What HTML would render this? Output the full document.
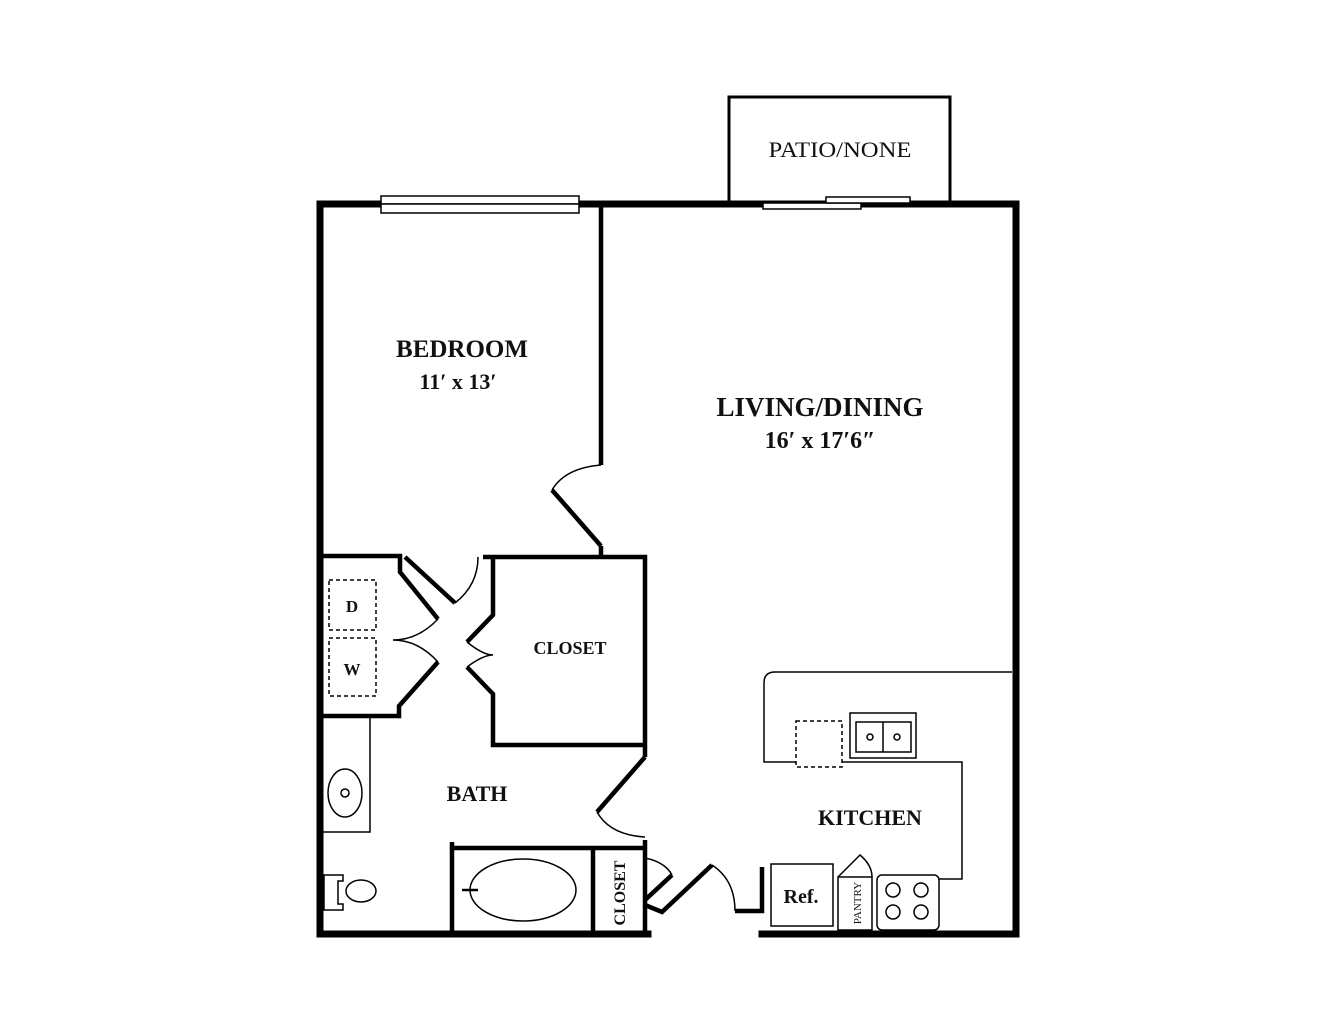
<!DOCTYPE html>
<html><head><style>body{margin:0;background:#fff}svg{display:block}text{font-family:"Liberation Serif",serif;font-weight:bold;fill:#111;text-anchor:middle}</style></head>
<body>
<svg width="1336" height="1032" viewBox="0 0 1336 1032" xmlns="http://www.w3.org/2000/svg" fill="none" stroke="#000">
<rect x="729" y="97" width="221" height="105" stroke-width="3"/>
<g stroke-width="7" stroke-linecap="square">
<line x1="320" y1="204" x2="1016" y2="204"/>
<line x1="320" y1="204" x2="320" y2="934"/>
<line x1="1016" y1="204" x2="1016" y2="934"/>
<line x1="320" y1="934" x2="648" y2="934"/>
<line x1="762" y1="934" x2="1016" y2="934"/>
</g>
<rect x="381" y="196" width="198" height="8" fill="#fff" stroke-width="1.5"/>
<rect x="381" y="204" width="198" height="9" fill="#fff" stroke-width="1.5"/>
<rect x="763" y="203" width="98" height="6" fill="#fff" stroke-width="1.5"/>
<rect x="826" y="197" width="84" height="6" fill="#fff" stroke-width="1.5"/>
<g stroke-width="4.5">
<line x1="601" y1="204" x2="601" y2="465"/>
<line x1="601" y1="546" x2="601" y2="558"/>
<path d="M320 556 H400 V572 L438 619"/>
<path d="M438 662 L399 706 V716 H320"/>
<path d="M483 557 H645 V757"/>
<path d="M493 556 V615 L467 642"/>
<path d="M467 667 L493 694 V745 H645"/>
<path d="M405 557 L455 603"/>
<path d="M645 757 L597 812"/>
<path d="M645 840 V934"/>
<path d="M452 842 V934"/>
<path d="M593 848 V934"/>
<path d="M452 848 H645"/>
<path d="M645 905 L662 912 L712 865"/>
<path d="M735 911 H762 V867"/>
<path d="M645 900 L672 875"/>
<path d="M552 490 L601 546"/>
</g>
<g stroke-width="1.5">
<path d="M601 465 Q565 468 552 490"/>
<path d="M455 603 Q478 585 478 557"/>
<path d="M438 619 Q418 640 393 640 Q418 640 438 662"/>
<path d="M467 642 Q483 655 493 655 Q483 655 467 667"/>
<path d="M597 812 Q610 835 645 837"/>
<path d="M645 858 Q665 862 672 875"/>
<path d="M712 865 Q735 880 735 911"/>
<rect x="329" y="580" width="47" height="50" stroke-dasharray="4,3"/>
<rect x="329" y="638" width="47" height="58" stroke-dasharray="4,3"/>
<rect x="320" y="716" width="50" height="116"/>
<ellipse cx="345" cy="793" rx="17" ry="24"/>
<circle cx="345" cy="793" r="4"/>
<path d="M324 875 H343 V881 H338 V904 H343 V910 H324 Z"/>
<ellipse cx="361" cy="891" rx="15" ry="11"/>
<ellipse cx="523" cy="890" rx="53" ry="31"/>
<line x1="462" y1="890" x2="478" y2="890" stroke-width="2.5"/>
<path d="M1012 672 H775 Q764 672 764 683 V762 H796"/>
<path d="M842 762 H962 V879 H939"/>
<rect x="796" y="721" width="46" height="46" stroke-dasharray="4,3"/>
<rect x="850" y="713" width="66" height="45"/>
<rect x="856" y="722" width="55" height="30"/>
<line x1="883" y1="722" x2="883" y2="752"/>
<circle cx="870" cy="737" r="3"/><circle cx="897" cy="737" r="3"/>
<rect x="771" y="864" width="62" height="62"/>
<path d="M838 877 V930 H872 V877 Z"/>
<path d="M838 877 L860 855 Q872 865 872 877"/>
<rect x="877" y="875" width="62" height="55" rx="5"/>
<circle cx="893" cy="890" r="7"/><circle cx="921" cy="890" r="7"/>
<circle cx="893" cy="912" r="7"/><circle cx="921" cy="912" r="7"/>
</g>
<g stroke="none">
<text x="840" y="157" font-size="22" style="font-weight:normal" textLength="143" lengthAdjust="spacingAndGlyphs">PATIO/NONE</text>
<text x="462" y="357" font-size="25">BEDROOM</text>
<text x="458" y="389" font-size="22">11′ x 13′</text>
<text x="820" y="416" font-size="27">LIVING/DINING</text>
<text x="820" y="448" font-size="24">16′ x 17′6″</text>
<text x="570" y="654" font-size="18">CLOSET</text>
<text x="352" y="612" font-size="17">D</text>
<text x="352" y="675" font-size="17">W</text>
<text x="477" y="801" font-size="22">BATH</text>
<text x="870" y="825" font-size="22">KITCHEN</text>
<text x="801" y="903" font-size="20">Ref.</text>
<text x="0" y="0" font-size="11" style="font-weight:normal" transform="translate(861,903) rotate(-90)">PANTRY</text>
<text x="0" y="0" font-size="16" transform="translate(625,893) rotate(-90)">CLOSET</text>
</g>
</svg>
</body></html>
